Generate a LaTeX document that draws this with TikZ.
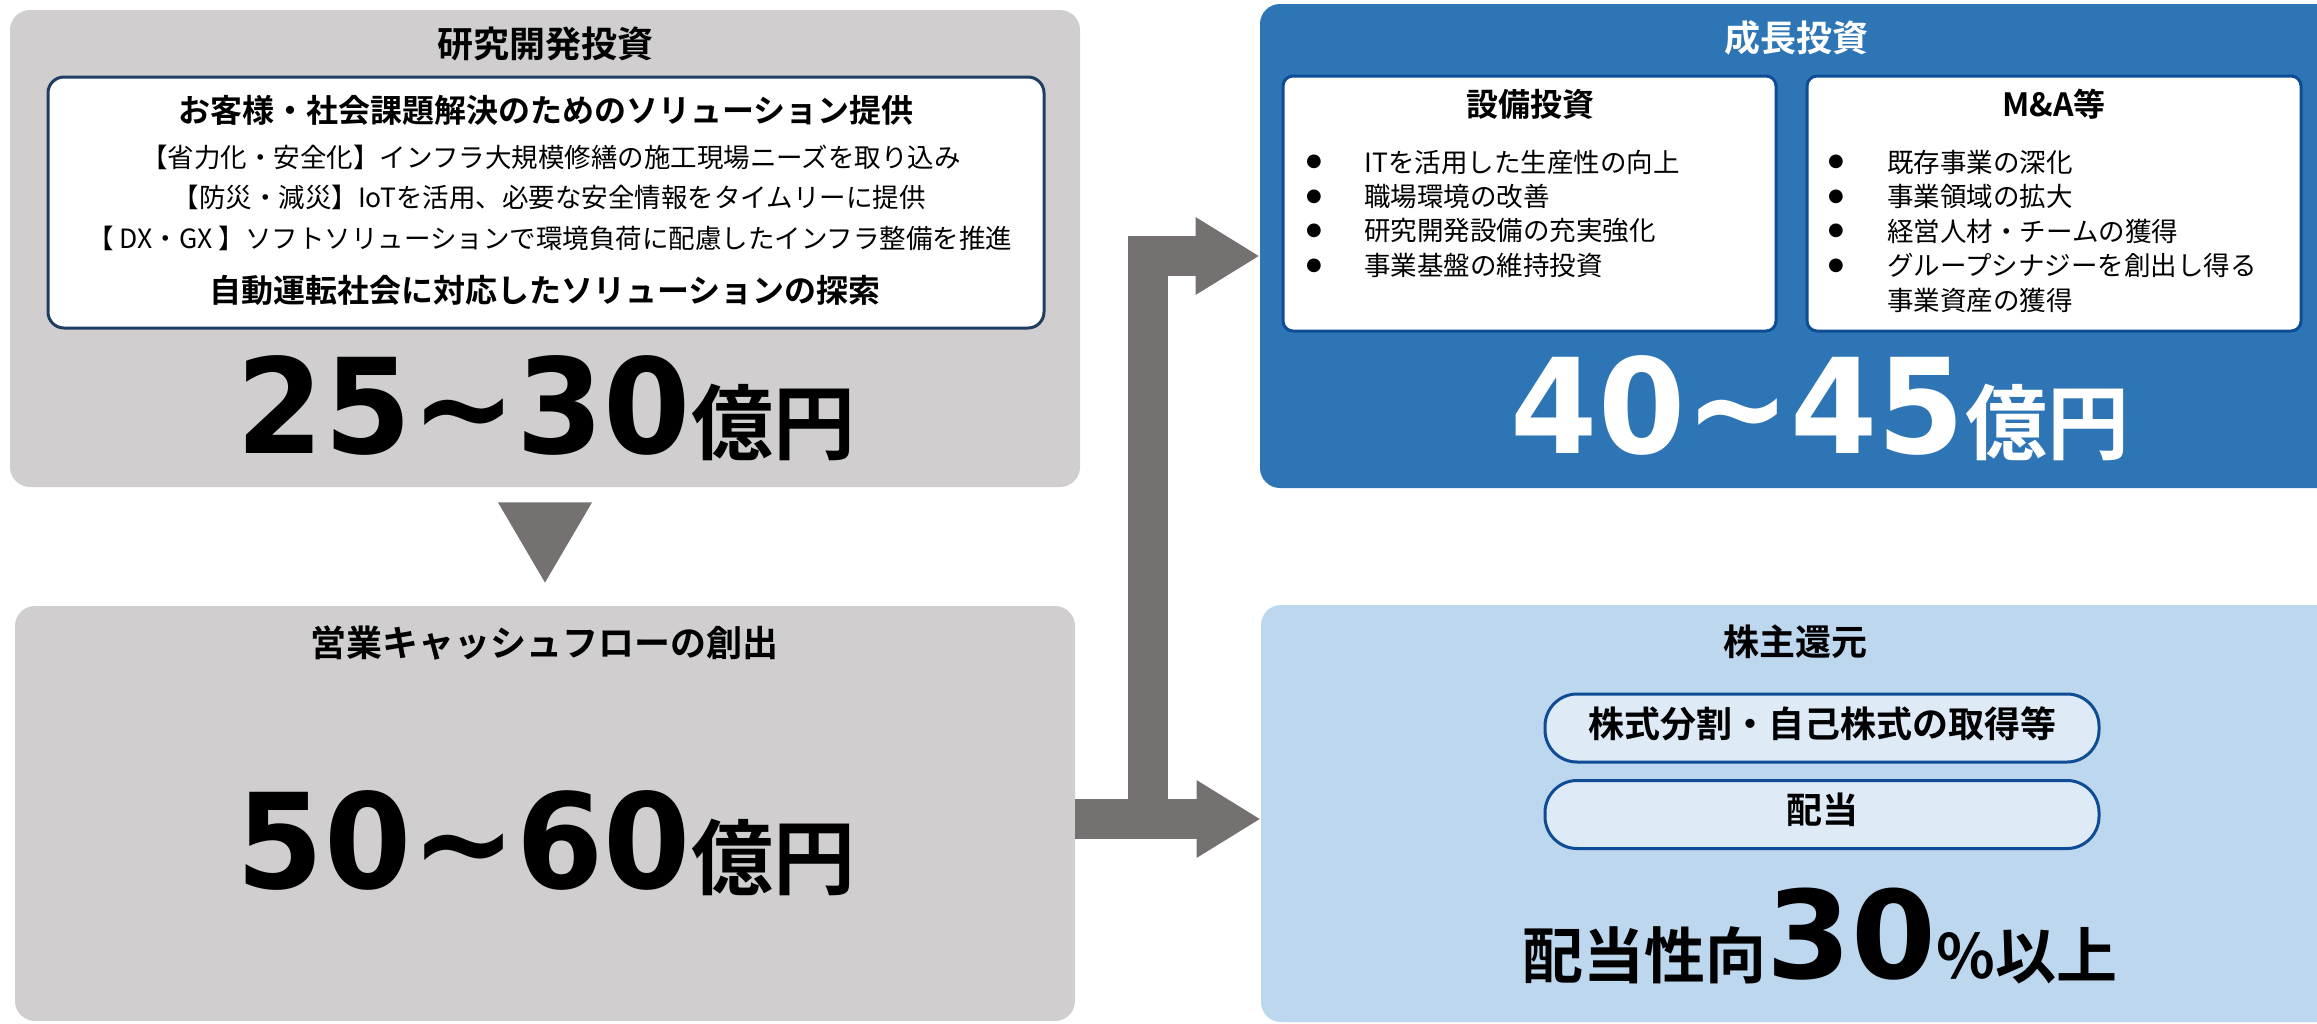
\documentclass[tikz,border=0pt]{standalone}
\usepackage{fontspec}
\setmainfont{Noto Sans CJK JP}[BoldFont={Noto Sans CJK JP Bold}]
\newfontfamily\numfont{DejaVu Sans}
\newfontfamily\bignumfont{DejaVu Sans}[FakeStretch=0.95]
\usetikzlibrary{arrows.meta,calc}
\definecolor{boxgray}{HTML}{D0CECE}
\definecolor{arrowgray}{HTML}{767171}
\definecolor{growblue}{HTML}{2E75B6}
\definecolor{returnblue}{HTML}{BDD7EE}
\definecolor{pillblue}{HTML}{DEEBF7}
\definecolor{navy}{HTML}{203E62}
\definecolor{edgeblue}{HTML}{0E4C96}
\begin{document}
\begin{tikzpicture}[x=0.5pt,y=-0.5pt]
\tikzset{base/.style={inner sep=0pt},
panel/.style={base,rounded corners=10pt},
card/.style={base,fill=white,line width=1.5pt,rounded corners=8pt},
pill/.style={base,fill=pillblue,draw=edgeblue,line width=1.5pt,rounded corners=16pt,minimum width=277pt,minimum height=34pt},
ttl/.style={base,font=\bfseries\fontsize{18pt}{20pt}\selectfont},
sub/.style={base,font=\bfseries\fontsize{16pt}{18pt}\selectfont},
txt/.style={base,font=\fontsize{13.25pt}{16pt}\selectfont},
bul/.style={base,font=\numfont\fontsize{9pt}{10pt}\selectfont},
big/.style={base,anchor=base},
blockarrow/.style={draw=arrowgray,line width=20pt,-{Triangle[width=36.5pt,length=32pt]}}}
\def\numsize{\bignumfont\bfseries\fontsize{66pt}{70pt}\selectfont}
\def\yensize{\bfseries\fontsize{41pt}{45pt}\selectfont}
\useasboundingbox (0,0) rectangle (2317,1023);
\clip (0,0) rectangle (2317,1023);
% four panels
\node[panel,fill=boxgray,minimum width=535pt,minimum height=238.5pt] (rd) at (545,248.5) {};
\node[panel,fill=boxgray,minimum width=530pt,minimum height=207.5pt] (cf) at (545,813.5) {};
\node[panel,fill=growblue,minimum width=540pt,minimum height=242pt] (gi) at (1800,246) {};
\node[panel,fill=returnblue,minimum width=539.5pt,minimum height=208.5pt] (sr) at (1800.5,813.5) {};
% arrows
\coordinate (split) at (1147.5,819);
\fill[arrowgray] ($(rd.south)+(-47,15)$) -- ($(rd.south)+(47,15)$) -- ($(cf.north)+(0,-23)$) -- cycle;
\draw[blockarrow] (cf.east |- split) -- (sr.west |- split);
\draw[blockarrow] (split) |- ($(gi.west)+(0,10)$);
% R&D
\node[ttl] (rdtitle) at (545,44) {研究開発投資};
\node[card,draw=navy,minimum width=498pt,minimum height=125.5pt] (rdin) at (546,202.5) {};
\node[sub] (rdsol) at (546,110) {お客様・社会課題解決のためのソリューション提供};
\node[txt] (rdl1) at (551,157) {【省力化・安全化】インフラ大規模修繕の施工現場ニーズを取り込み};
\node[txt] (rdl2) at (549,197) {【防災・減災】IoTを活用、必要な安全情報をタイムリーに提供};
\node[txt] (rdl3) at (550,238) {【 DX・GX 】ソフトソリューションで環境負荷に配慮したインフラ整備を推進};
\node[sub] (rdauto) at (545,290) {自動運転社会に対応したソリューションの探索};
\node[big] (rdnum) at (546,453) {{\numsize 25\textasciitilde 30}{\yensize 億円}};
% cash flow
\node[ttl] (cftitle) at (544,643) {営業キャッシュフローの創出};
\node[big] (cfnum) at (546,888) {{\numsize 50\textasciitilde 60}{\yensize 億円}};
% growth
\node[ttl,text=white] (gititle) at (1796,38) {成長投資};
\node[card,draw=edgeblue,minimum width=246.5pt,minimum height=127.5pt,rounded corners=5pt] (capex) at (1529.5,203.5) {};
\node[card,draw=edgeblue,minimum width=247pt,minimum height=127.5pt,rounded corners=5pt] (mna) at (2054,203.5) {};
\node[sub] (capextitle) at (1530,104) {設備投資};
\node[sub] (mnatitle) at (2054,104) {M\&A等};
\foreach \t [count=\i] in {ITを活用した生産性の向上,職場環境の改善,研究開発設備の充実強化,事業基盤の維持投資}{
  \node[bul] (capexdot\i) at (1314,127.5+34.5*\i) {●};
  \node[txt,anchor=west] (capexitem\i) at (1364,127.5+34.5*\i) {\t};
}
\foreach \t [count=\i] in {既存事業の深化,事業領域の拡大,経営人材・チームの獲得,グループシナジーを創出し得る}{
  \node[bul] (mnadot\i) at (1836,127.5+34.5*\i) {●};
  \node[txt,anchor=west] (mnaitem\i) at (1887,127.5+34.5*\i) {\t};
}
\node[txt,anchor=west] (mnaitem5) at (1887,300) {事業資産の獲得};
\node[big,text=white] (ginum) at (1820,453) {{\numsize 40\textasciitilde 45}{\yensize 億円}};
% shareholder return
\node[ttl] (srtitle) at (1795,642) {株主還元};
\node[pill] (buyback) at (1822,728) {};
\node[pill] (dividend) at (1822,814.5) {};
\node[ttl] (buybacktxt) at (1822,723.5) {株式分割・自己株式の取得等};
\node[ttl] (dividendtxt) at (1822,810) {配当};
\node[big] (payout) at (1820,978) {{\bfseries\fontsize{30.5pt}{32pt}\selectfont 配当性向}{\numfont\bfseries\fontsize{61pt}{64pt}\selectfont 30}{\bfseries\fontsize{30.5pt}{32pt}\selectfont\%以上}};
\end{tikzpicture}
\end{document}
